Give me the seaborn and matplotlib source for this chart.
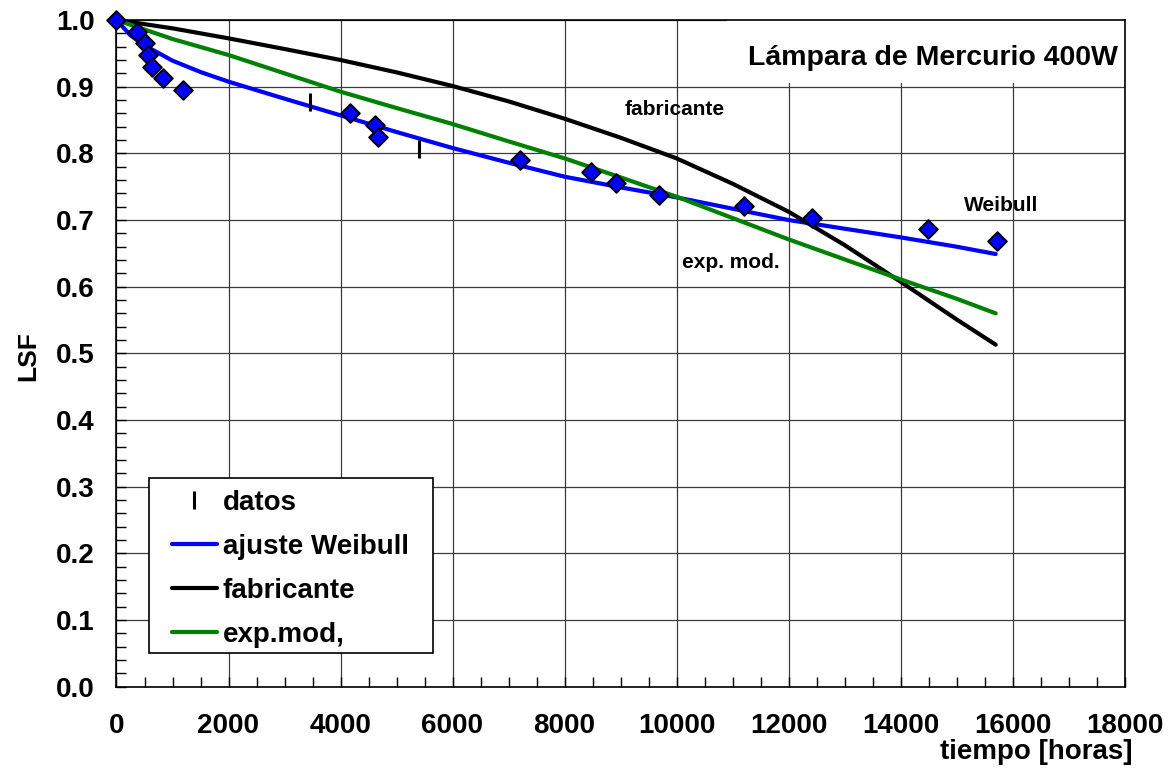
import matplotlib
matplotlib.use("Agg")
import matplotlib.pyplot as plt
from matplotlib.lines import Line2D
from matplotlib.patches import Rectangle
from matplotlib.ticker import MultipleLocator, FormatStrFormatter
import seaborn as sns

# --- curves (hours, LSF) ---
weibull_t = [0, 250, 500, 1000, 1500, 2000, 3000, 4000, 5000, 6000, 7000,
             8000, 9000, 10000, 11000, 12000, 13000, 14000, 15000, 15700]
weibull_lsf = [1.0, 0.977, 0.962, 0.939, 0.922, 0.9075, 0.882, 0.857, 0.832,
               0.808, 0.786, 0.765, 0.749, 0.734, 0.717, 0.700, 0.687, 0.674,
               0.660, 0.649]

fabricante_t = [0, 1000, 2000, 3000, 4000, 5000, 6000, 7000, 8000, 9000,
                10000, 11000, 12000, 13000, 14000, 15000, 15700]
fabricante_lsf = [1.0, 0.9875, 0.9725, 0.9565, 0.940, 0.9215, 0.901, 0.878,
                  0.852, 0.8235, 0.7925, 0.7545, 0.7125, 0.6625, 0.6075,
                  0.551, 0.513]

expmod_t = [0, 1000, 2000, 3000, 4000, 5000, 6000, 7000, 8000, 9000, 10000,
            11000, 12000, 13000, 14000, 15000, 15700]
expmod_lsf = [1.0, 0.9715, 0.9475, 0.920, 0.8925, 0.868, 0.844, 0.818,
              0.7925, 0.764, 0.735, 0.703, 0.671, 0.641, 0.611, 0.582, 0.560]

# --- measured points ---
obs_t = [0, 361, 509, 568, 629, 836, 1193, 4170, 4616, 4675, 7205, 8473,
         8914, 9693, 11211, 12425, 14486, 15718]
obs_lsf = [1.0, 0.9815, 0.965, 0.9475, 0.930, 0.9125, 0.895, 0.860, 0.8425,
           0.825, 0.790, 0.7725, 0.755, 0.7375, 0.721, 0.7035, 0.686, 0.6685]

datos_t = [3455, 5408]
datos_lsf = [0.877, 0.807]

x_ticks = list(range(0, 18001, 2000))
y_ticks = [0.0, 0.1, 0.2, 0.3, 0.4, 0.5, 0.6, 0.7, 0.8, 0.9, 1.0]

sns.set_theme(style="white")
plt.rcParams["font.family"] = ["Liberation Sans", "DejaVu Sans"]
plt.rcParams["font.weight"] = "bold"
for key in ("text.color", "axes.labelcolor", "xtick.color", "ytick.color",
            "legend.labelcolor"):
    plt.rcParams[key] = "black"

W, H = 1172, 769
fig = plt.figure(figsize=(W / 100, H / 100), dpi=100)
ax = fig.add_axes([116.5 / W, 1 - 686.7 / H, 1008 / W, 666.7 / H])
ax.set_facecolor("white")

BLUE = "#0000ff"
GREEN = "#008000"
LW = 3.0

sns.lineplot(x=weibull_t, y=weibull_lsf, ax=ax, color=BLUE, lw=LW,
             zorder=3, sort=False)
sns.lineplot(x=fabricante_t, y=fabricante_lsf, ax=ax, color="black", lw=LW,
             zorder=3, sort=False)
sns.lineplot(x=expmod_t, y=expmod_lsf, ax=ax, color=GREEN, lw=LW,
             zorder=3, sort=False)

sns.scatterplot(x=obs_t, y=obs_lsf, ax=ax, marker="D", s=90, color=BLUE,
                edgecolor="black", linewidth=1.4, zorder=6, clip_on=False)
ax.plot(datos_t, datos_lsf, ls="none", marker="|", ms=13, mew=2.2,
        color="black", zorder=5)

ax.set_xlim(0, 18000)
ax.set_ylim(0, 1.0)
ax.set_xticks(x_ticks)
ax.set_yticks(y_ticks)
ax.xaxis.set_minor_locator(MultipleLocator(500))
ax.yaxis.set_minor_locator(MultipleLocator(0.02))
ax.yaxis.set_major_formatter(FormatStrFormatter("%.1f"))
ax.xaxis.set_major_formatter(FormatStrFormatter("%d"))
ax.set_xlabel("")
ax.set_ylabel("")

ax.tick_params(which="both", direction="in", length=7, width=1,
               color="black", left=True, bottom=True, top=False, right=False)
ax.tick_params(axis="y", which="major", pad=15.5, labelsize=20,
               labelcolor="black")
ax.tick_params(axis="x", which="major", pad=19, labelsize=20,
               labelcolor="black")
for lab in ax.get_xticklabels() + ax.get_yticklabels():
    lab.set_fontweight("bold")

ax.set_axisbelow(True)
ax.grid(True, which="major", color="#3c3c3c", lw=0.9)
for sp in ax.spines.values():
    sp.set_visible(True)
    sp.set_color("black")
    sp.set_linewidth(1.2)

# white panel behind the title
ax.add_patch(Rectangle((10900, 0.905), 7100, 0.095, facecolor="white",
                       edgecolor="none", zorder=1))
ax.text(17884, 0.932, "Lámpara de Mercurio 400W", ha="right", va="baseline",
        fontsize=20.5, fontweight="bold", color="black", zorder=7)

# curve annotations
ax.text(9080, 0.8575, "fabricante", ha="left", va="baseline", fontsize=15,
        fontweight="bold", color="black", zorder=7)
ax.text(15134, 0.7135, "Weibull", ha="left", va="baseline", fontsize=15,
        fontweight="bold", color="black", zorder=7)
ax.text(10098, 0.628, "exp. mod.", ha="left", va="baseline", fontsize=15,
        fontweight="bold", color="black", zorder=7)

# legend with a plain rectangular frame
ax.add_patch(Rectangle((0.0322, 0.0505), 0.282, 0.2625, transform=ax.transAxes,
                       facecolor="white", edgecolor="black", lw=1.2, zorder=8))
handles = [
    Line2D([], [], ls="none", marker="|", ms=13, mew=2.2, color="black"),
    Line2D([], [], color=BLUE, lw=LW),
    Line2D([], [], color="black", lw=LW),
    Line2D([], [], color=GREEN, lw=LW),
]
labels = ["datos", "ajuste Weibull", "fabricante", "exp.mod,"]
leg = ax.legend(handles, labels, loc="upper left",
                bbox_to_anchor=(0.0548, 0.295), frameon=False, borderpad=0,
                borderaxespad=0, handlelength=1.62, handletextpad=0.22,
                labelspacing=0.65, prop={"size": 20, "weight": "bold"})
for t in leg.get_texts():
    t.set_color("black")
leg.set_zorder(9)

fig.text(28 / W, 1 - 356 / H, "LSF", rotation=90, ha="center", va="center",
         fontsize=19, fontweight="bold", color="black")
fig.text(1133 / W, 1 - 759 / H, "tiempo [horas]", ha="right", va="baseline",
         fontsize=20, fontweight="bold", color="black")

fig.savefig("out.png", dpi=100, facecolor="white")
